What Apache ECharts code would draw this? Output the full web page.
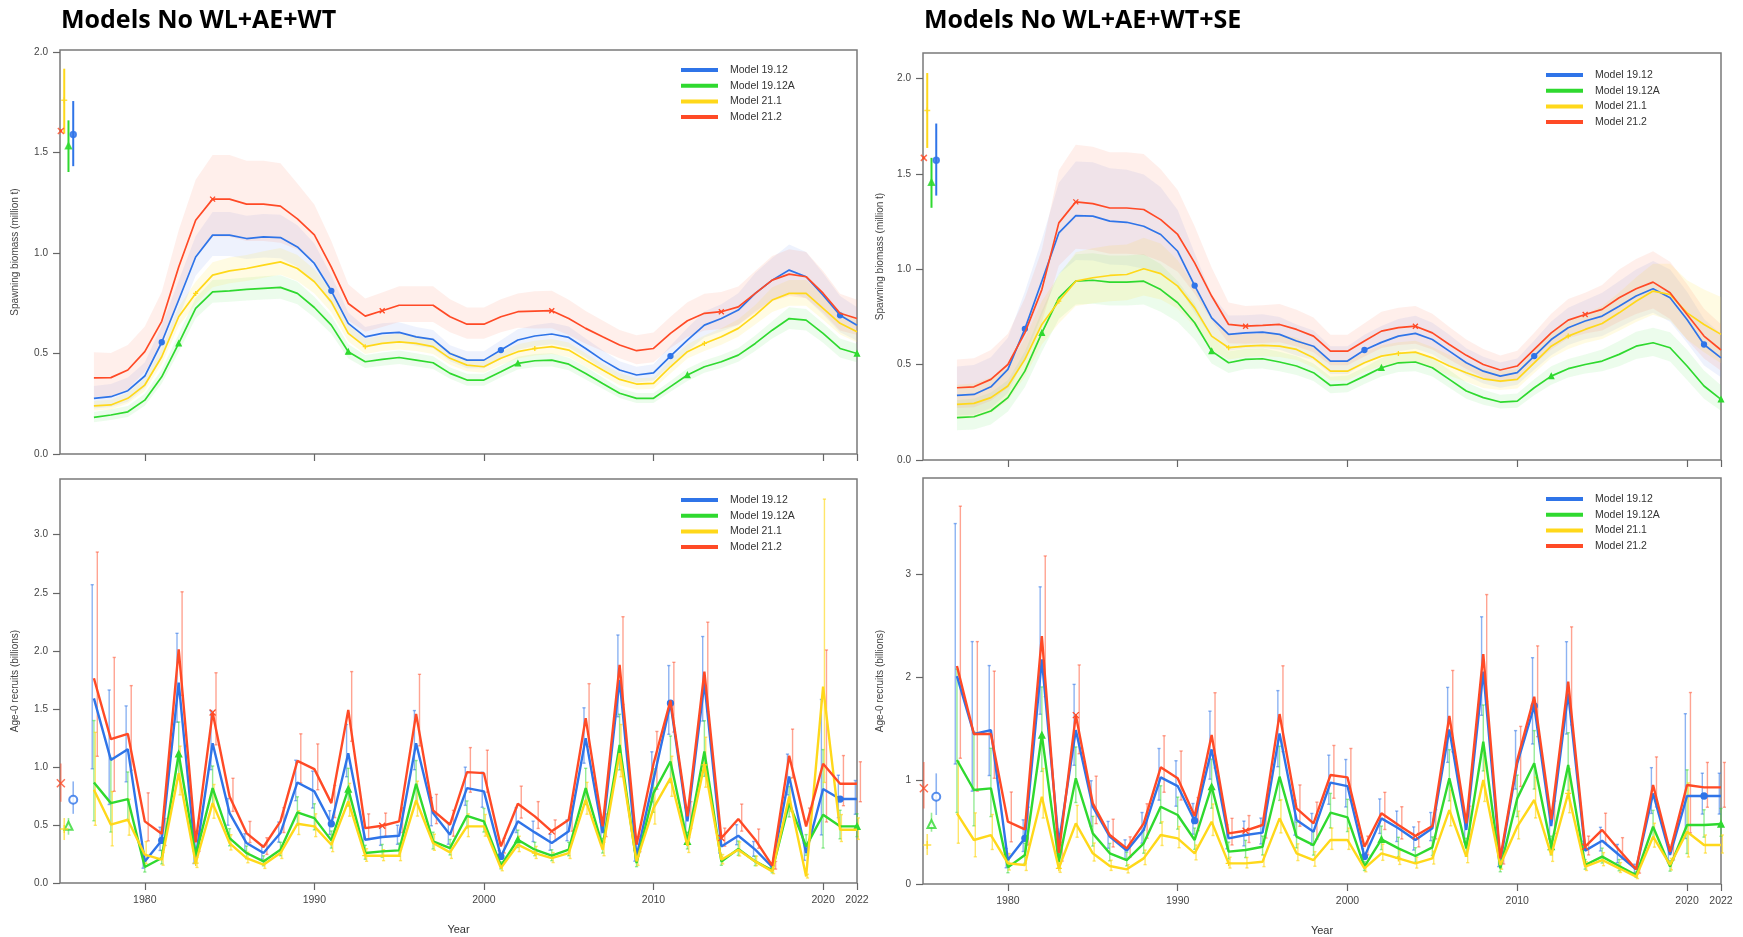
<!DOCTYPE html>
<html><head><meta charset="utf-8">
<script src="https://cdn.jsdelivr.net/npm/echarts@6/dist/echarts.min.js"></script>
<style>html,body{margin:0;padding:0;background:#fff}#c{width:1743px;height:937px}</style>
</head><body><div id="c"></div>
<script>
// ---------------- data ----------------
const YEARS = [1977,1978,1979,1980,1981,1982,1983,1984,1985,1986,1987,1988,1989,1990,1991,1992,1993,1994,1995,1996,1997,1998,1999,2000,2001,2002,2003,2004,2005,2006,2007,2008,2009,2010,2011,2012,2013,2014,2015,2016,2017,2018,2019,2020,2021,2022];
const MODELS = ['Model 19.12','Model 19.12A','Model 21.1','Model 21.2'];
const TITLES = ['Models No WL+AE+WT','Models No WL+AE+WT+SE'];
const X_TICKS = [1980,1990,2000,2010,2020,2022];
const Y_TICKS_SB = [0,0.5,1,1.5,2];
const Y_TICKS_RL = [0,0.5,1,1.5,2,2.5,3];
const Y_TICKS_RR = [0,1,2,3];

// Spawning biomass (million t), left panel (No WL+AE+WT)
const sbL_1912  = [.277,.285,.315,.388,.556,.766,.98,1.089,1.089,1.072, 1.08,1.077,1.03,.948,.812,.65,.583,.6,.605,.583, .57,.5,.467,.467,.517,.567,.587,.597,.58,.525, .467,.418,.393,.404,.487,.567,.641,.674,.716,.799, .865,.915,.882,.79,.69,.641];
const sbL_1912A = [.182,.194,.21,.268,.384,.55,.724,.807,.812,.819, .824,.829,.799,.729,.641,.509,.459,.471,.48,.467, .454,.401,.368,.368,.409,.451,.464,.467,.447,.401, .351,.302,.277,.277,.335,.393,.434,.459,.492,.55, .616,.674,.666,.6,.525,.5];
const sbL_211   = [.239,.244,.277,.343,.484,.683,.799,.89,.911,.923, .94,.956,.923,.857,.757,.6,.534,.55,.558,.55, .534,.476,.442,.434,.476,.509,.525,.534,.517,.467, .418,.371,.348,.351,.434,.509,.55,.583,.625,.691, .766,.799,.799,.724,.65,.608];
const sbL_212   = [.379,.38,.418,.509,.66,.93,1.163,1.268,1.268,1.243, 1.243,1.233,1.17,1.09,.93,.749,.686,.713,.74,.74, .74,.683,.646,.646,.683,.708,.711,.713,.674,.625, .583,.542,.514,.525,.6,.663,.70,.708,.732,.799, .865,.895,.882,.80,.70,.674];
// Spawning biomass, right panel (No WL+AE+WT+SE)
const sbR_1912  = [.339,.344,.384,.475,.688,.938,1.191,1.282,1.279,1.253, 1.247,1.226,1.183,1.095,.915,.746,.659,.667,.671,.659, .624,.597,.519,.519,.577,.617,.65,.664,.632,.571, .51,.466,.44,.458,.545,.632,.694,.729,.755,.807, .86,.898,.851,.737,.606,.536];
const sbR_1912A = [.222,.227,.257,.327,.466,.667,.851,.938,.943,.933, .933,.938,.894,.825,.72,.571,.51,.528,.531,.514, .493,.458,.391,.397,.44,.484,.51,.514,.484,.423, .362,.327,.304,.309,.379,.44,.479,.501,.519,.554, .597,.615,.589,.493,.388,.318];
const sbR_211   = [.292,.297,.327,.388,.528,.711,.833,.938,.956,.968, .973,1.003,.978,.912,.798,.65,.589,.597,.601,.597, .58,.536,.466,.466,.51,.545,.559,.566,.536,.493, .458,.426,.414,.423,.51,.597,.65,.685,.716,.772, .833,.886,.868,.772,.711,.659];
const sbR_212   = [.379,.384,.423,.501,.667,.894,1.244,1.354,1.345,1.322, 1.322,1.314,1.261,1.183,1.034,.86,.711,.702,.706,.711, .685,.65,.571,.571,.624,.676,.694,.702,.667,.606, .549,.501,.472,.493,.58,.667,.734,.763,.79,.851, .898,.933,.877,.763,.65,.577];

// Confidence band half-widths (log scale) for spawning biomass
const bwL_1912  = [.2,.2,.19,.16,.14,.12,.1,.1,.1,.1, .1,.1,.1,.1,.09,.08,.08,.08,.08,.08, .08,.08,.09,.09,.09,.09,.09,.09,.09,.09, .1,.1,.1,.1,.1,.1,.1,.1,.11,.12, .12,.13,.13,.13,.13,.13];
const bwL_1912A = [.14,.14,.13,.11,.09,.08,.07,.07,.07,.07, .07,.07,.07,.07,.07,.07,.07,.07,.07,.07, .07,.07,.08,.08,.07,.07,.07,.07,.07,.08, .08,.08,.09,.09,.08,.08,.07,.07,.07,.07, .07,.08,.08,.08,.09,.09];
const bwL_211   = [.1,.1,.1,.09,.08,.07,.07,.07,.07,.07, .07,.07,.07,.07,.07,.07,.07,.07,.07,.07, .07,.07,.07,.07,.07,.07,.07,.07,.07,.07, .07,.08,.08,.08,.08,.07,.07,.07,.07,.07, .08,.08,.08,.08,.09,.09];
const bwL_212   = [.29,.28,.26,.22,.2,.18,.16,.16,.16,.16, .16,.16,.14,.13,.13,.12,.12,.12,.12,.12, .12,.12,.12,.12,.12,.12,.13,.13,.13,.13, .13,.13,.14,.14,.13,.13,.13,.13,.13,.13, .13,.13,.13,.13,.13,.13];
const bwR_1912  = [.37,.37,.34,.3,.25,.21,.2,.2,.2,.2, .2,.2,.19,.18,.17,.15,.14,.13,.13,.13, .13,.13,.14,.14,.13,.13,.13,.13,.13,.14, .14,.15,.15,.15,.14,.14,.14,.14,.15,.15, .15,.15,.16,.18,.2,.21];
const bwR_1912A = [.35,.35,.32,.25,.2,.16,.14,.14,.14,.14, .14,.14,.14,.13,.13,.12,.11,.1,.1,.1, .1,.1,.11,.11,.1,.1,.1,.1,.1,.11, .12,.12,.12,.12,.11,.11,.1,.1,.11,.12, .12,.12,.13,.16,.19,.21];
const bwR_211   = [.3,.3,.28,.22,.19,.16,.15,.15,.15,.15, .15,.15,.15,.14,.13,.12,.11,.1,.1,.1, .1,.1,.11,.11,.1,.1,.1,.1,.1,.11, .11,.12,.12,.12,.11,.11,.11,.11,.12,.13, .14,.15,.17,.2,.23,.26];
const bwR_212   = [.33,.33,.31,.28,.24,.21,.2,.2,.2,.2, .2,.2,.19,.18,.17,.16,.15,.14,.14,.14, .14,.14,.14,.14,.14,.14,.14,.14,.14,.14, .14,.15,.15,.15,.14,.14,.14,.14,.15,.16, .16,.16,.17,.19,.2,.21];

// Age-0 recruits (billions), left panel
const rcL_1912  = [1.59,1.06,1.153,.186,.367,1.726,.215,1.204,.602,.344, .258,.43,.866,.789,.51,1.118,.373,.396,.407,1.204, .602,.416,.817,.789,.229,.531,.436,.344,.445,1.248, .43,1.749,.229,.889,1.549,.531,1.721,.315,.407,.287, .138,.918,.258,.809,.723,.723];
const rcL_1912A = [.866,.688,.723,.138,.215,1.113,.235,.817,.387,.258, .186,.287,.608,.559,.367,.809,.258,.272,.281,.855, .358,.301,.579,.531,.149,.373,.287,.235,.287,.817, .315,1.19,.172,.774,1.047,.358,1.133,.186,.293,.186, .109,.688,.315,.588,.488,.488];
const rcL_211   = [.803,.502,.545,.244,.201,.946,.172,.688,.344,.215, .158,.258,.51,.488,.33,.703,.235,.235,.235,.711, .344,.264,.488,.488,.129,.33,.258,.215,.258,.717, .287,1.118,.186,.645,.903,.321,1.018,.201,.287,.186, .1,.746,.057,1.692,.459,.459];
const rcL_212   = [1.764,1.239,1.285,.531,.424,2.013,.35,1.468,.746,.43, .31,.531,1.052,.981,.688,1.491,.473,.493,.531,1.457, .625,.502,.955,.946,.315,.683,.574,.445,.545,1.42, .488,1.878,.33,1.027,1.572,.574,1.821,.387,.551,.373, .149,1.096,.488,1.027,.855,.855];
// Age-0 recruits, right panel
const rcR_1912  = [2.013,1.452,1.49,.232,.442,2.174,.394,1.49,.748,.458, .323,.523,1.032,.948,.613,1.303,.442,.474,.497,1.458, .619,.506,.981,.948,.265,.635,.539,.426,.539,1.497, .523,2.055,.216,1.168,1.723,.561,1.845,.323,.419,.281, .142,.877,.281,.852,.852,.852];
const rcR_1912A = [1.2,.91,.926,.161,.281,1.442,.216,1.023,.49,.297, .232,.394,.748,.668,.426,.942,.313,.329,.361,1.039, .458,.377,.69,.645,.168,.432,.345,.271,.355,1.023, .345,1.377,.152,.829,1.168,.361,1.152,.184,.265,.174, .087,.555,.168,.571,.571,.581];
const rcR_211   = [.684,.426,.474,.2,.184,.845,.152,.587,.297,.174, .142,.248,.474,.442,.297,.603,.2,.2,.216,.635, .297,.232,.426,.426,.152,.297,.248,.2,.248,.716, .265,1.006,.184,.555,.813,.281,.877,.168,.232,.152, .071,.458,.184,.506,.377,.377];
const rcR_212   = [2.11,1.452,1.452,.603,.529,2.4,.3,1.635,.781,.474, .345,.587,1.129,1.023,.658,1.442,.49,.516,.571,1.645, .732,.587,1.055,1.032,.361,.684,.571,.465,.561,1.626, .587,2.226,.248,1.2,1.813,.626,1.958,.361,.523,.329, .142,.958,.313,.958,.935,.935];
// Recruit error bar half-widths (log scale)
const erL = [.48,.45,.28,.38,.27,.22,.25,.21,.19,.21, .23,.2,.2,.2,.2,.2,.23,.2,.2,.21, .2,.22,.2,.19,.2,.2,.2,.2,.2,.19, .2,.2,.2,.24,.19,.2,.21,.2,.21,.22, .22,.19,.28,.67,.25,.2];
const erR = [.55,.48,.35,.39,.34,.28,.3,.26,.29,.28, .28,.28,.24,.23,.24,.25,.26,.25,.25,.25, .27,.3,.24,.24,.25,.26,.27,.26,.25,.24, .25,.23,.25,.24,.24,.25,.24,.25,.27,.31, .3,.25,.3,.66,.23,.23];

// Unfished (equilibrium) estimates plotted before 1977, per model
const eqX      = [1975.78,1975.5,1975.25,1975.05];
const eqSbL    = [1.59,1.533,1.76,1.607];
const eqSbL_lo = [1.432,1.403,1.594,1.6];
const eqSbL_hi = [1.756,1.66,1.917,1.615];
const eqSbR    = [1.572,1.457,1.833,1.585];
const eqSbR_lo = [1.387,1.323,1.637,1.578];
const eqSbR_hi = [1.765,1.585,2.03,1.592];
const eqRcL    = [.717,.493,.465,.86];
const eqRcL_lo = [.596,.416,.37,.70];
const eqRcL_hi = [.875,.56,.56,1.03];
const eqRcR    = [.845,.58,.377,.926];
const eqRcR_lo = [.668,.506,.28,.73];
const eqRcR_hi = [1.071,.69,.484,1.18];

// ---------------- styles ----------------
const COLORS = ['#2f74e8','#2fd92f','#ffd81a','#ff4a26'];
const ERRCOL = ['rgba(47,116,232,0.55)','rgba(47,217,47,0.5)','rgba(255,216,26,0.65)','rgba(255,74,38,0.5)'];
const BANDCOL = ['rgba(100,140,235,0.11)','rgba(100,230,100,0.12)','rgba(255,228,80,0.16)','rgba(255,120,90,0.12)'];
const ERR_OFF = [-0.1,0,0.08,0.2];
const MARK_START = [4,5,6,7];
const PLUS = 'path://M0,5L10,5M5,0L5,10';
const CROSS = 'path://M0,0L10,10M10,0L0,10';
const SYM_FILLED = ['circle','triangle',PLUS,CROSS];
const SYM_OPEN = ['emptyCircle','emptyTriangle',PLUS,CROSS];
const FONT = 'Liberation Sans';

const chart = echarts.init(document.getElementById('c'), null, {renderer:'canvas'});

function bandRenderer(fill){
  return function(params, api){
    if (params.dataIndexInside !== 0) return null;
    const n = params.dataInsideLength;
    const up = [], dn = [];
    for (let i=0;i<n;i++){
      up.push(api.coord([api.value(0,i), api.value(2,i)]));
      dn.push(api.coord([api.value(0,i), api.value(1,i)]));
    }
    return {type:'polygon', silent:true, shape:{points: up.concat(dn.reverse())}, style:{fill:fill, stroke:null}};
  };
}
function errRenderer(color, off, cap, lw){
  return function(params, api){
    const x = api.value(0) + off;
    const a = api.coord([x, api.value(2)]);
    const b = api.coord([x, api.value(3)]);
    const st = {stroke:color, lineWidth:lw};
    const ch = [{type:'line', shape:{x1:a[0],y1:a[1],x2:b[0],y2:b[1]}, style:st}];
    if (cap){
      ch.push({type:'line', shape:{x1:a[0]-cap,y1:a[1],x2:a[0]+cap,y2:a[1]}, style:st});
      ch.push({type:'line', shape:{x1:b[0]-cap,y1:b[1],x2:b[0]+cap,y2:b[1]}, style:st});
    }
    return {type:'group', children:ch};
  };
}

const PANELS = [
  {lines:[sbL_1912,sbL_1912A,sbL_211,sbL_212], bands:[bwL_1912,bwL_1912A,bwL_211,bwL_212], eq:[eqSbL,eqSbL_lo,eqSbL_hi], lw:1.7, eqSym:SYM_FILLED},
  {lines:[rcL_1912,rcL_1912A,rcL_211,rcL_212], err:erL, eq:[eqRcL,eqRcL_lo,eqRcL_hi], lw:2.4, eqSym:SYM_OPEN},
  {lines:[sbR_1912,sbR_1912A,sbR_211,sbR_212], bands:[bwR_1912,bwR_1912A,bwR_211,bwR_212], eq:[eqSbR,eqSbR_lo,eqSbR_hi], lw:1.7, eqSym:SYM_FILLED},
  {lines:[rcR_1912,rcR_1912A,rcR_211,rcR_212], err:erR, eq:[eqRcR,eqRcR_lo,eqRcR_hi], lw:2.4, eqSym:SYM_OPEN}
];

const series = [];
PANELS.forEach((P, p) => {
  for (let m=0;m<4;m++){
    const vals = P.lines[m];
    if (P.bands){
      const bw = P.bands[m];
      series.push({type:'custom', name:'band', xAxisIndex:p, yAxisIndex:p, z:1, silent:true,
        data: YEARS.map((y,i)=>[y, vals[i]*Math.exp(-bw[i]), vals[i]*Math.exp(bw[i])]),
        encode:{x:0,y:[1,2]}, renderItem: bandRenderer(BANDCOL[m])});
    }
    if (P.err){
      const e = P.err;
      series.push({type:'custom', name:'err', xAxisIndex:p, yAxisIndex:p, z:2+m, silent:true,
        data: YEARS.map((y,i)=>[y, vals[i], vals[i]*Math.exp(-e[i]), vals[i]*Math.exp(e[i])]),
        encode:{x:0,y:1}, renderItem: errRenderer(ERRCOL[m], ERR_OFF[m], 1.6, 1.4)});
    }
    const sym = SYM_FILLED[m], start = MARK_START[m];
    series.push({type:'line', name:MODELS[m], xAxisIndex:p, yAxisIndex:p, z:10+m, silent:true,
      data: YEARS.map((y,i)=>[y, vals[i]]),
      symbol: function(v, prm){ const k = prm.dataIndex - start; return (k>=0 && k%10===0) ? sym : 'none'; },
      symbolSize: p%2===0 ? 5 : 6,
      lineStyle:{color:COLORS[m], width:P.lw},
      itemStyle:{color:COLORS[m], borderColor:COLORS[m], borderWidth:1.3}});
    // unfished estimate with interval
    series.push({type:'custom', name:'eqerr', xAxisIndex:p, yAxisIndex:p, z:20, silent:true,
      data: [[eqX[m], P.eq[0][m], P.eq[1][m], P.eq[2][m]]], encode:{x:0,y:1},
      renderItem: errRenderer(p%2===0 ? COLORS[m] : ERRCOL[m], 0, 0, p%2===0 ? 2 : 1.6)});
    series.push({type:'scatter', name:'eq', xAxisIndex:p, yAxisIndex:p, z:21, silent:true,
      data: [[eqX[m], P.eq[0][m]]], symbol: P.eqSym[m], symbolSize: p%2===0 ? 6 : 8,
      itemStyle:{color:COLORS[m], borderColor:COLORS[m], borderWidth:1.5}});
  }
});

const GRIDS = [
  {left:60, top:50, width:797, height:404},
  {left:60, top:479, width:797, height:404},
  {left:923, top:53, width:798, height:407},
  {left:923, top:478, width:798, height:406}
];
const Y_MAX = [2.01, 3.48, 2.135, 3.93];
const Y_TICKS = [Y_TICKS_SB, Y_TICKS_RL, Y_TICKS_SB, Y_TICKS_RR];
const Y_NAMES = ['Spawning biomass (million t)','Age-0 recruits (billions)','Spawning biomass (million t)','Age-0 recruits (billions)'];
const AXCOL = '#666';

const option = {
  animation:false,
  backgroundColor:'#fff',
  title: TITLES.map((t,i)=>({text:t, left: i===0?61:924, top:8, padding:0,
    textStyle:{fontFamily:'Open Sans', fontWeight:'bold', fontSize:25, color:'#000'}})),
  grid: GRIDS.map(g=>Object.assign({show:true, borderColor:'#7a7a7a', borderWidth:1.5, backgroundColor:'transparent', containLabel:false}, g)),
  xAxis: GRIDS.map((g,i)=>({type:'value', gridIndex:i, min:1975, max:2022,
    splitLine:{show:false}, axisLine:{show:false},
    axisTick:{show:true, inside:false, length:7, customValues:X_TICKS, lineStyle:{color:AXCOL, width:1.2}},
    axisLabel:{show: i%2===1, customValues:X_TICKS, margin:12, fontSize:10.5, color:'#444', fontFamily:FONT,
      formatter: v => String(v)},
    name: i%2===1 ? 'Year' : '', nameLocation:'middle', nameGap:41,
    nameTextStyle:{fontSize:11, color:'#333', fontFamily:FONT}})),
  yAxis: GRIDS.map((g,i)=>({type:'value', gridIndex:i, min:0, max:Y_MAX[i],
    splitLine:{show:false}, axisLine:{show:false},
    axisTick:{show:true, inside:false, length:7, customValues:Y_TICKS[i], lineStyle:{color:AXCOL, width:1.2}},
    axisLabel:{customValues:Y_TICKS[i], margin:12, fontSize:10, color:'#444', fontFamily:FONT,
      formatter: v => i===3 ? String(v) : v.toFixed(1)},
    name: Y_NAMES[i], nameLocation:'middle', nameGap: i<2 ? 40 : 38,
    nameTextStyle:{fontSize:10, color:'#444', fontFamily:FONT}})),
  legend: [
    {left:676, top:59}, {left:676, top:489}, {left:1541, top:64}, {left:1541, top:488}
  ].map(l=>Object.assign({orient:'vertical', icon:'rect', itemWidth:35, itemHeight:2, itemGap:3.7,
    selectedMode:false, data:MODELS,
    textStyle:{fontSize:10.5, color:'#333', fontFamily:FONT, lineHeight:12, padding:[0,0,0,8]}}, l)),
  series: series
};
chart.setOption(option);
</script>
</body></html>
